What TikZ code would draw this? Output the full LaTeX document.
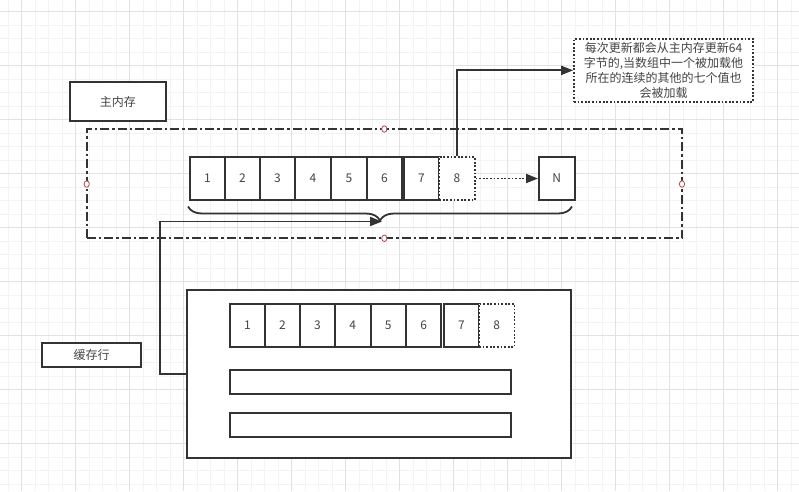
\documentclass[tikz,border=0pt]{standalone}
\usepackage{fontspec}
\newfontfamily\cjk{Noto Sans CJK SC}
\usetikzlibrary{arrows.meta,decorations.pathreplacing}
\definecolor{ln}{HTML}{333333}
\definecolor{tx}{HTML}{444444}
\definecolor{gmin}{HTML}{F3F3F3}
\definecolor{gmaj}{HTML}{E2E2E2}
\definecolor{hdl}{HTML}{B04A4A}
\tikzset{
  box/.style={draw=ln, line width=2pt, fill=white, inner sep=0pt, text=tx, font=\cjk\fontsize{12}{15}\selectfont},
  cell/.style={box, minimum width=35.5pt, minimum height=43pt},
  dcell/.style={cell, draw=ln, dash pattern=on 1.8pt off 1.8pt, line width=1.6pt},
  conn/.style={draw=ln, line width=1.8pt},
  tip/.style={-{Triangle[length=12pt,width=9pt]}},
  hdot/.style={circle, draw=hdl, fill=white, line width=0.8pt, minimum width=6.5pt, inner sep=0pt, xscale=0.8},
}
\begin{document}
\begin{tikzpicture}[x=1pt,y=-1pt]
\useasboundingbox (0,0) rectangle (799,491);
\fill[white] (0,0) rectangle (799,491);
% grid
\foreach \i in {0,...,59} {\draw[gmin, line width=0.8pt] (8.2+13.5*\i,0) -- ++(0,491);}
\foreach \i in {0,...,36} {\draw[gmin, line width=0.8pt] (0,11.7+13.5*\i) -- ++(799,0);}
\foreach \i in {0,...,14} {\draw[gmaj, line width=0.8pt] (21.7+54*\i,0) -- ++(0,491);}
\foreach \i in {0,...,9} {\draw[gmaj, line width=0.8pt] (0,11.7+54*\i) -- ++(799,0);}

% main memory label
\node[box, minimum width=95.7pt, minimum height=39pt] (mm) at (117.85,101.5) {主内存};
% dash-dot frame
\node[box, fill=none, minimum width=595.3pt, minimum height=109.3pt, dash pattern=on 9pt off 3pt on 2.5pt off 3pt] (frame) at (384.35,183.65) {};

% main cells
\foreach \n/\x in {1/207.5,2/242.5,3/277.5,4/313,5/349,6/384.5,7/421.5} {
  \node[cell] (m\n) at (\x,178.5) {\n};
}
\node[dcell] (m8) at (457,178.5) {8};
\node[cell] (mN) at (556.75,178.5) {N};
\draw[conn, dash pattern=on 1.8pt off 1.8pt, tip] (m8.east) -- (mN.west);

% handles of the frame
\node[hdot] (h1) at (384.3,129) {};
\node[hdot] (h2) at (86.7,184) {};
\node[hdot] (h3) at (682,184) {};
\node[hdot] (h4) at (384.3,238.3) {};

% brace
\draw[conn, decorate, decoration={brace, mirror, amplitude=14pt}] (188,206.5) -- (572,206.5);
\coordinate (bt) at (382,221.5);

% callout
\node[box, dash pattern=on 1.8pt off 1.8pt, line width=1.6pt, minimum width=179pt, minimum height=62.7pt, align=center] (note) at (663.5,70.35)
 {每次更新都会从主内存更新64\\字节的,当数组中一个被加载他\\所在的连续的其他的七个值也\\会被加载};
\draw[conn, tip] (m8.north) |- (note.west);

% cache
\node[box, minimum width=384.6pt, minimum height=167.7pt] (cache) at (379,373.85) {};
\foreach \n/\x in {1/247.5,2/282.5,3/317.5,4/352.8,5/388.3,6/423.7,7/461.5} {
  \node[cell] (c\n) at (\x,325.3) {\n};
}
\node[dcell] (c8) at (496.7,325.3) {8};
\node[box, minimum width=281.3pt, minimum height=23.7pt] (bar1) at (370.65,381.85) {};
\node[box, minimum width=281.3pt, minimum height=24pt] (bar2) at (370.65,424.7) {};

\node[box, minimum width=99.6pt, minimum height=24pt] (cl) at (91.6,355.3) {缓存行};

\draw[conn, tip] (cache.west |- 0,374.3) -- (160,374.3) -- (160,221.5) -- (bt);
\end{tikzpicture}
\end{document}
